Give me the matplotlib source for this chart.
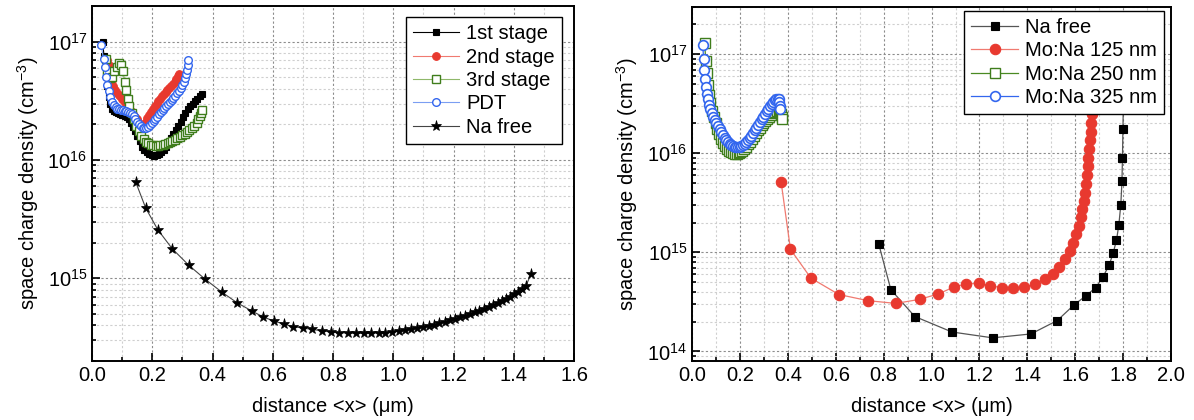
import matplotlib
matplotlib.use("Agg")
import matplotlib.pyplot as plt
from matplotlib.ticker import MultipleLocator, LogLocator

plt.rcParams['font.family'] = ['Liberation Sans', 'DejaVu Sans']
plt.rcParams['mathtext.fontset'] = 'custom'
plt.rcParams['mathtext.rm'] = 'Liberation Sans'
plt.rcParams['mathtext.it'] = 'Liberation Sans:italic'

# ---- left panel: sodium supply stages ----
x_1st = [0.035, 0.040, 0.045, 0.050, 0.055, 0.060, 0.066, 0.072, 0.078, 0.085,
         0.092, 0.100, 0.108, 0.115, 0.122, 0.128, 0.135, 0.142, 0.150, 0.158,
         0.166, 0.174, 0.182, 0.190, 0.198, 0.206, 0.214, 0.222, 0.230, 0.238,
         0.246, 0.254, 0.262, 0.270, 0.278, 0.286, 0.294, 0.302, 0.310, 0.318,
         0.326, 0.334, 0.342, 0.350, 0.358, 0.366]
n_1st = [1.0e17, 7.5e16, 5.2e16, 4.2e16, 3.4e16, 3.0e16, 2.7e16, 2.6e16, 2.55e16, 2.5e16,
         2.45e16, 2.4e16, 2.35e16, 2.3e16, 2.2e16, 2.05e16, 1.9e16, 1.75e16, 1.6e16, 1.45e16,
         1.3e16, 1.22e16, 1.16e16, 1.12e16, 1.1e16, 1.09e16, 1.1e16, 1.12e16, 1.16e16, 1.22e16,
         1.3e16, 1.4e16, 1.52e16, 1.65e16, 1.8e16, 1.95e16, 2.1e16, 2.3e16, 2.5e16, 2.7e16,
         2.85e16, 3.0e16, 3.15e16, 3.3e16, 3.45e16, 3.6e16]

x_2nd = [0.050, 0.055, 0.060, 0.065, 0.070, 0.076, 0.082, 0.088, 0.094, 0.100,
         0.106, 0.112, 0.118, 0.124, 0.130, 0.136, 0.142, 0.148, 0.154, 0.160,
         0.166, 0.172, 0.178, 0.184, 0.190, 0.196, 0.202, 0.208, 0.214, 0.220,
         0.226, 0.232, 0.238, 0.244, 0.250, 0.256, 0.262, 0.268, 0.274, 0.280,
         0.286, 0.290]
n_2nd = [7.0e16, 6.4e16, 5.5e16, 4.7e16, 4.2e16, 3.9e16, 3.7e16, 3.55e16, 3.45e16, 3.3e16,
         3.15e16, 3.0e16, 2.85e16, 2.7e16, 2.6e16, 2.45e16, 2.3e16, 2.2e16, 2.1e16, 2.02e16,
         1.98e16, 2.0e16, 2.1e16, 2.25e16, 2.4e16, 2.55e16, 2.7e16, 2.85e16, 3.0e16, 3.15e16,
         3.3e16, 3.45e16, 3.6e16, 3.75e16, 3.9e16, 4.05e16, 4.2e16, 4.4e16, 4.6e16, 4.85e16,
         5.1e16, 5.3e16]

x_3rd = [0.045, 0.050, 0.058, 0.066, 0.074, 0.082, 0.090, 0.097, 0.103, 0.108,
         0.113, 0.118, 0.124, 0.131, 0.139, 0.147, 0.155, 0.163, 0.171, 0.179,
         0.187, 0.195, 0.203, 0.211, 0.219, 0.227, 0.235, 0.243, 0.251, 0.259,
         0.267, 0.275, 0.283, 0.291, 0.299, 0.307, 0.315, 0.323, 0.331, 0.339,
         0.347, 0.353, 0.358, 0.362, 0.365]
n_3rd = [7.2e16, 5.6e16, 4.9e16, 5.0e16, 5.6e16, 6.1e16, 6.6e16, 6.3e16, 5.6e16, 4.6e16,
         3.9e16, 3.3e16, 2.85e16, 2.5e16, 2.2e16, 1.95e16, 1.75e16, 1.6e16, 1.5e16, 1.43e16,
         1.38e16, 1.35e16, 1.33e16, 1.32e16, 1.32e16, 1.33e16, 1.34e16, 1.36e16, 1.38e16, 1.41e16,
         1.44e16, 1.48e16, 1.52e16, 1.57e16, 1.62e16, 1.67e16, 1.72e16, 1.78e16, 1.85e16, 1.95e16,
         2.05e16, 2.2e16, 2.35e16, 2.5e16, 2.65e16]

x_pdt = [0.030, 0.038, 0.043, 0.047, 0.050, 0.055, 0.060, 0.066, 0.072, 0.078,
         0.084, 0.090, 0.096, 0.102, 0.108, 0.114, 0.120, 0.126, 0.132, 0.138,
         0.144, 0.150, 0.156, 0.162, 0.168, 0.174, 0.180, 0.186, 0.192, 0.198,
         0.204, 0.210, 0.216, 0.222, 0.228, 0.234, 0.240, 0.246, 0.252, 0.258,
         0.264, 0.270, 0.276, 0.282, 0.288, 0.294, 0.299, 0.304, 0.308, 0.311,
         0.314, 0.317, 0.320]
n_pdt = [9.4e16, 7.2e16, 6.1e16, 5.0e16, 4.3e16, 3.8e16, 3.4e16, 3.1e16, 2.9e16, 2.78e16,
         2.72e16, 2.68e16, 2.65e16, 2.64e16, 2.62e16, 2.6e16, 2.57e16, 2.52e16, 2.45e16, 2.35e16,
         2.22e16, 2.1e16, 2.0e16, 1.93e16, 1.88e16, 1.86e16, 1.87e16, 1.9e16, 1.96e16, 2.04e16,
         2.13e16, 2.23e16, 2.33e16, 2.43e16, 2.53e16, 2.63e16, 2.74e16, 2.86e16, 2.98e16, 3.1e16,
         3.23e16, 3.36e16, 3.5e16, 3.66e16, 3.85e16, 4.05e16, 4.3e16, 4.6e16, 4.95e16, 5.3e16,
         5.8e16, 6.3e16, 7.0e16]

x_nafree_l = [0.145, 0.178, 0.218, 0.266, 0.321, 0.376, 0.432, 0.482, 0.530, 0.569,
              0.604, 0.637, 0.668, 0.699, 0.731, 0.762, 0.792, 0.821, 0.849, 0.876,
              0.902, 0.927, 0.951, 0.974, 0.996, 1.018, 1.039, 1.059, 1.079, 1.098,
              1.117, 1.135, 1.153, 1.171, 1.188, 1.205, 1.222, 1.238, 1.254, 1.270,
              1.286, 1.301, 1.316, 1.331, 1.346, 1.360, 1.374, 1.388, 1.401, 1.414,
              1.427, 1.440, 1.457]
n_nafree_l = [6.5e15, 3.93e15, 2.58e15, 1.78e15, 1.29e15, 9.8e14, 7.6e14, 6.2e14, 5.3e14, 4.7e14,
              4.35e14, 4.1e14, 3.9e14, 3.8e14, 3.7e14, 3.6e14, 3.52e14, 3.47e14, 3.44e14, 3.42e14,
              3.42e14, 3.43e14, 3.45e14, 3.48e14, 3.52e14, 3.57e14, 3.63e14, 3.7e14, 3.78e14, 3.86e14,
              3.95e14, 4.05e14, 4.16e14, 4.28e14, 4.4e14, 4.53e14, 4.67e14, 4.82e14, 4.98e14, 5.15e14,
              5.33e14, 5.52e14, 5.72e14, 5.93e14, 6.15e14, 6.4e14, 6.65e14, 6.95e14, 7.3e14, 7.7e14,
              8.1e14, 8.6e14, 1.09e15]

# ---- right panel: Mo:Na back contact thickness ----
x_nafree_r = [0.780, 0.830, 0.930, 1.085, 1.255, 1.415, 1.525, 1.595, 1.645, 1.685,
              1.715, 1.742, 1.758, 1.772, 1.782, 1.790, 1.795, 1.797, 1.799, 1.801]
n_nafree_r = [1.2e15, 4.2e14, 2.25e14, 1.57e14, 1.37e14, 1.5e14, 2.05e14, 2.95e14, 3.65e14, 4.4e14,
              5.6e14, 7.5e14, 9.8e14, 1.32e15, 1.9e15, 3.0e15, 5.2e15, 9.0e15, 1.75e16, 3.5e16]

x_mo125 = [0.372, 0.411, 0.496, 0.613, 0.735, 0.851, 0.950, 1.028, 1.092, 1.144,
           1.197, 1.245, 1.293, 1.341, 1.388, 1.432, 1.472, 1.505, 1.532, 1.556,
           1.576, 1.592, 1.604, 1.614, 1.622, 1.629, 1.635, 1.640, 1.644, 1.648,
           1.652, 1.655, 1.658, 1.661, 1.664, 1.667, 1.670, 1.673]
n_mo125 = [5.1e15, 1.07e15, 5.5e14, 3.75e14, 3.25e14, 3.05e14, 3.35e14, 3.8e14, 4.45e14, 4.8e14,
           4.85e14, 4.6e14, 4.4e14, 4.35e14, 4.45e14, 4.8e14, 5.35e14, 6.1e14, 7.1e14, 8.5e14,
           1.03e15, 1.25e15, 1.52e15, 1.84e15, 2.25e15, 2.75e15, 3.3e15, 4.0e15, 4.9e15, 6.0e15,
           7.4e15, 9.0e15, 1.1e16, 1.35e16, 1.65e16, 2.0e16, 2.5e16, 3.1e16]

x_mo250 = [0.053, 0.057, 0.061, 0.065, 0.070, 0.076, 0.083, 0.090, 0.098, 0.106,
           0.114, 0.122, 0.130, 0.138, 0.146, 0.154, 0.162, 0.170, 0.178, 0.186,
           0.194, 0.202, 0.210, 0.218, 0.226, 0.234, 0.242, 0.250, 0.258, 0.266,
           0.274, 0.282, 0.290, 0.298, 0.306, 0.314, 0.322, 0.330, 0.338, 0.346,
           0.354, 0.362, 0.368, 0.372, 0.375, 0.377]
n_mo250 = [1.3e17, 8.5e16, 6.4e16, 4.9e16, 3.9e16, 3.2e16, 2.7e16, 2.3e16, 2.0e16, 1.75e16,
           1.55e16, 1.4e16, 1.28e16, 1.18e16, 1.1e16, 1.05e16, 1.02e16, 1.0e16, 0.99e16, 0.99e16,
           1.0e16, 1.02e16, 1.05e16, 1.1e16, 1.16e16, 1.23e16, 1.31e16, 1.4e16, 1.5e16, 1.6e16,
           1.7e16, 1.81e16, 1.92e16, 2.03e16, 2.14e16, 2.24e16, 2.34e16, 2.43e16, 2.52e16, 2.6e16,
           2.66e16, 2.7e16, 2.65e16, 2.5e16, 2.35e16, 2.2e16]

x_mo325 = [0.045, 0.048, 0.051, 0.054, 0.057, 0.061, 0.066, 0.071, 0.077, 0.083,
           0.089, 0.095, 0.101, 0.108, 0.115, 0.122, 0.129, 0.136, 0.143, 0.150,
           0.157, 0.164, 0.171, 0.178, 0.185, 0.192, 0.199, 0.206, 0.213, 0.220,
           0.227, 0.234, 0.241, 0.248, 0.255, 0.262, 0.269, 0.276, 0.283, 0.290,
           0.297, 0.304, 0.311, 0.318, 0.325, 0.332, 0.339, 0.346, 0.352, 0.357,
           0.361, 0.364, 0.366, 0.367]
n_mo325 = [1.25e17, 9.0e16, 6.9e16, 5.6e16, 4.7e16, 4.0e16, 3.5e16, 3.1e16, 2.8e16, 2.55e16,
           2.35e16, 2.18e16, 2.03e16, 1.88e16, 1.75e16, 1.63e16, 1.52e16, 1.43e16, 1.36e16, 1.3e16,
           1.25e16, 1.21e16, 1.18e16, 1.16e16, 1.15e16, 1.15e16, 1.16e16, 1.18e16, 1.21e16, 1.25e16,
           1.3e16, 1.36e16, 1.43e16, 1.51e16, 1.6e16, 1.7e16, 1.81e16, 1.93e16, 2.06e16, 2.2e16,
           2.35e16, 2.5e16, 2.66e16, 2.82e16, 2.98e16, 3.13e16, 3.28e16, 3.42e16, 3.52e16, 3.55e16,
           3.5e16, 3.3e16, 3.0e16, 2.8e16]

RED = '#e8392f'
GREEN = '#3f7d1c'
BLUE = '#3366ee'

fig = plt.figure(figsize=(11.94, 4.2), dpi=100)
ax1 = fig.add_axes([0.0771, 0.1405, 0.4037, 0.845])
ax2 = fig.add_axes([0.5796, 0.1405, 0.4012, 0.843])

# left
ax1.plot(x_1st, n_1st, '-', color='black', lw=0.8, marker='s', ms=5,
         mfc='black', mec='black', mew=0.8, label='1st stage')
ax1.plot(x_2nd, n_2nd, '-', color='#f07a70', lw=0.8, marker='o', ms=5.5,
         mfc=RED, mec=RED, mew=0.8, label='2nd stage')
ax1.plot(x_3rd, n_3rd, '-', color='#8fb86a', lw=0.8, marker='s', ms=5.5,
         mfc='white', mec=GREEN, mew=1.0, label='3rd stage')
ax1.plot(x_pdt, n_pdt, '-', color='#7b9ef2', lw=0.8, marker='o', ms=5.5,
         mfc='white', mec=BLUE, mew=1.0, label='PDT')
ax1.plot(x_nafree_l, n_nafree_l, '-', color='#444444', lw=0.8, marker='*', ms=8,
         mfc='black', mec='black', mew=0.5, label='Na free')
ax1.set_xlim(0, 1.6)
ax1.set_ylim(2e14, 2e17)
ax1.xaxis.set_major_locator(MultipleLocator(0.2))
ax1.xaxis.set_minor_locator(MultipleLocator(0.1))

# right
ax2.plot(x_nafree_r, n_nafree_r, '-', color='#555555', lw=0.9, marker='s', ms=6,
         mfc='black', mec='black', mew=0.8, label='Na free')
ax2.plot(x_mo125, n_mo125, '-', color='#f07a70', lw=0.9, marker='o', ms=7.5,
         mfc=RED, mec=RED, mew=0.8, label='Mo:Na 125 nm')
ax2.plot(x_mo250, n_mo250, '-', color='#4a8a22', lw=0.9, marker='s', ms=6.5,
         mfc='white', mec=GREEN, mew=1.0, label='Mo:Na 250 nm')
ax2.plot(x_mo325, n_mo325, '-', color=BLUE, lw=0.9, marker='o', ms=7,
         mfc='white', mec=BLUE, mew=1.2, label='Mo:Na 325 nm')
ax2.set_xlim(0, 2.0)
ax2.set_ylim(8e13, 3e17)
ax2.xaxis.set_major_locator(MultipleLocator(0.2))
ax2.xaxis.set_minor_locator(MultipleLocator(0.1))

for ax in (ax1, ax2):
    ax.set_yscale('log')
    ax.yaxis.set_major_locator(LogLocator(base=10))
    ax.yaxis.set_minor_locator(LogLocator(base=10, subs=range(2, 10)))
    ax.grid(True, which='major', color='#8c8c8c', ls=(0, (2, 2)), lw=0.8)
    ax.grid(True, which='minor', color='#cfcfcf', ls=(0, (2, 2)), lw=0.8)
    ax.set_axisbelow(True)
    ax.tick_params(which='both', direction='in', top=False, right=False,
                   labelsize=14.5, width=1.2)
    ax.tick_params(which='major', length=6)
    ax.tick_params(which='minor', length=3)
    for s in ax.spines.values():
        s.set_linewidth(1.4)
    ax.set_xlabel('distance <x> (μm)', fontsize=14.5, labelpad=9)
    ax.set_ylabel('space charge density (cm$^{-3}$)', fontsize=14.5, labelpad=5)

leg1 = ax1.legend(loc='upper right', bbox_to_anchor=(0.975, 0.969), borderaxespad=0,
                  fontsize=14.5, fancybox=False, edgecolor='black', framealpha=1,
                  handlelength=2.3, labelspacing=0.22, borderpad=0.35, handletextpad=0.35)
leg1.get_frame().set_linewidth(1.0)
leg2 = ax2.legend(loc='upper right', bbox_to_anchor=(0.985, 0.989), borderaxespad=0,
                  fontsize=14.5, fancybox=False, edgecolor='black', framealpha=1,
                  handlelength=2.3, labelspacing=0.22, borderpad=0.35, handletextpad=0.35)
leg2.get_frame().set_linewidth(1.0)

fig.savefig('out.png', dpi=100)
